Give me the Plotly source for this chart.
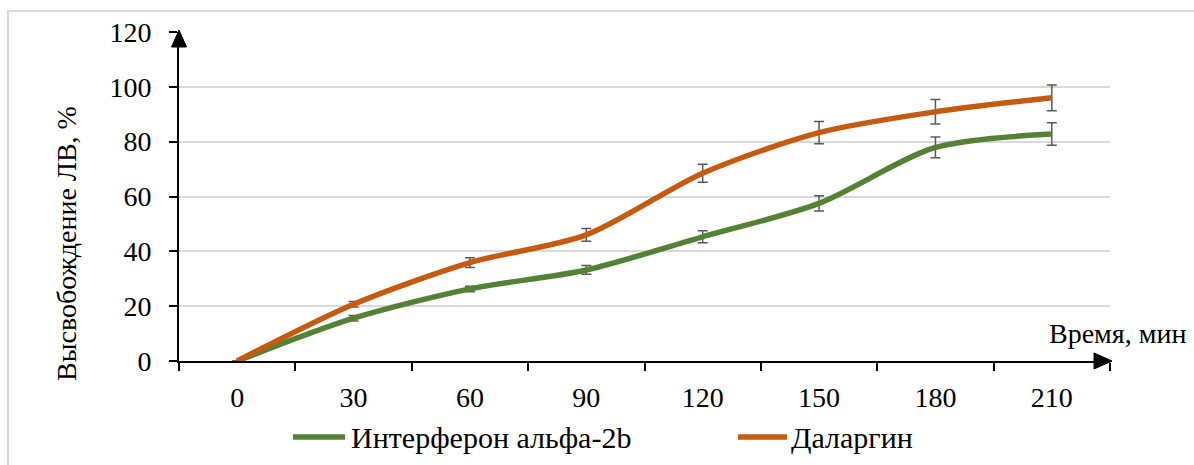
import plotly.graph_objects as go

# ---- data ----
times = ["0", "30", "60", "90", "120", "150", "180", "210"]
series_names = ["Интерферон альфа-2b", "Даларгин"]
interferon = [0, 15.6, 26.3, 33.2, 45.3, 57.5, 77.9, 82.8]
interferon_err = [None, 1.0, 1.0, 1.6, 2.2, 2.8, 3.8, 4.1]
dalargin = [0, 20.7, 35.9, 46.0, 68.5, 83.3, 90.9, 96.0]
dalargin_err = [None, 1.0, 1.8, 2.3, 3.3, 4.1, 4.5, 4.7]
y_ticks = [0, 20, 40, 60, 80, 100, 120]

colors = ["#548235", "#C55A11"]
FONT = "Liberation Serif"
FS = 28
W, H = 1194, 465
L, R, T, B = 179, 1110, 32, 361


def px(x):
    return (x - L) / (R - L)


def py(y):
    return (B - y) / (B - T)


fig = go.Figure()
for name, vals, errs, col in [
    (series_names[0], interferon, interferon_err, colors[0]),
    (series_names[1], dalargin, dalargin_err, colors[1]),
]:
    fig.add_trace(go.Scatter(
        x=times, y=vals, name=name, mode="lines",
        line=dict(color=col, width=5.5, shape="spline", smoothing=0.8),
        error_y=dict(type="data", array=errs, visible=True,
                     color="#595959", thickness=1.5, width=5),
        showlegend=False,
    ))

shapes = []
# outer chart border
shapes.append(dict(type="rect", xref="paper", yref="paper",
                   x0=px(8), x1=px(W + 20), y0=py(11), y1=py(H + 20),
                   line=dict(color="#d9d9d9", width=2), layer="below"))
# axis arrows
shapes.append(dict(type="path", xref="paper", yref="paper",
                   path=f"M {px(179)},{py(30)} L {px(171.5)},{py(47)} L {px(186.5)},{py(47)} Z",
                   fillcolor="black", line=dict(color="black", width=1)))
shapes.append(dict(type="path", xref="paper", yref="paper",
                   path=f"M {px(1112)},{py(361)} L {px(1094)},{py(353)} L {px(1094)},{py(369)} Z",
                   fillcolor="black", line=dict(color="black", width=1)))

annotations = []
# legend (manual)
leg = [(293, 345, 349), (738, 787, 789)]
for (x0, x1, tx), name, col in zip(leg, series_names, colors):
    shapes.append(dict(type="line", xref="paper", yref="paper",
                       x0=px(x0), x1=px(x1), y0=py(437), y1=py(437),
                       line=dict(color=col, width=5.5)))
    annotations.append(dict(xref="paper", yref="paper", x=px(tx), y=py(437),
                            xanchor="left", yanchor="middle", showarrow=False,
                            text=name, font=dict(family=FONT, size=30, color="black")))
# axis titles
annotations.append(dict(xref="paper", yref="paper", x=px(1047), y=py(333),
                        xanchor="left", yanchor="middle", showarrow=False,
                        text="Время, мин", font=dict(family=FONT, size=FS, color="black")))
annotations.append(dict(xref="paper", yref="paper", x=px(66), y=py(244),
                        xanchor="center", yanchor="middle", showarrow=False,
                        textangle=-90,
                        text="Высвобождение ЛВ, %", font=dict(family=FONT, size=FS, color="black")))

fig.update_layout(
    width=W, height=H,
    margin=dict(l=L, r=W - R, t=T, b=H - B, pad=0),
    paper_bgcolor="white", plot_bgcolor="white",
    font=dict(family=FONT, size=FS, color="black"),
    shapes=shapes, annotations=annotations,
)
fig.update_xaxes(
    type="category", range=[-0.5, 7.5], tickson="boundaries",
    showline=True, linecolor="black", linewidth=2,
    ticks="outside", ticklen=8, tickwidth=2, tickcolor="black",
    showgrid=False, zeroline=False,
    ticklabelstandoff=10,
    tickfont=dict(family=FONT, size=FS, color="black"),
)
fig.update_yaxes(
    range=[0, 120], tickvals=y_ticks,
    showline=True, linecolor="black", linewidth=2,
    ticks="outside", ticklen=8, tickwidth=2, tickcolor="black",
    showgrid=True, gridcolor="#d9d9d9", gridwidth=2,
    zeroline=False,
    ticklabelstandoff=12,
    tickfont=dict(family=FONT, size=FS, color="black"),
)

fig.write_html("out.html")
